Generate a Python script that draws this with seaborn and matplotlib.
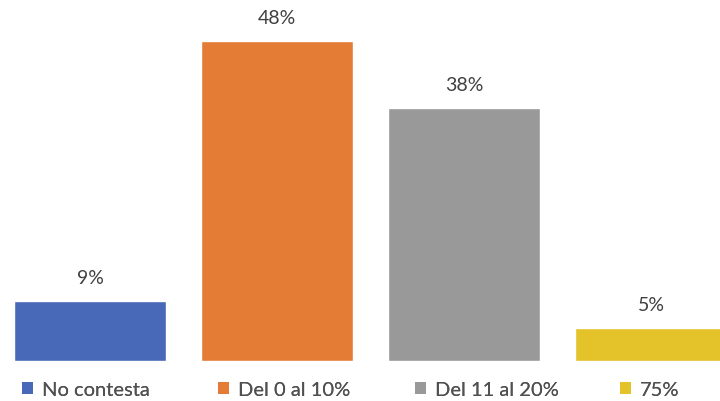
import matplotlib
matplotlib.use("Agg")
import matplotlib.pyplot as plt
from matplotlib.patches import Patch
import seaborn as sns
import pandas as pd

categories = ["No contesta", "Del 0 al 10%", "Del 11 al 20%", "75%"]
values = [9, 48, 38, 5]
colors = ["#4769B8", "#E47C36", "#999999", "#E4C22A"]

sns.set_theme(style="white")
plt.rcParams["font.family"] = ["Lato", "DejaVu Sans"]

df = pd.DataFrame({"cat": categories, "val": values})

fig = plt.figure(figsize=(7.2, 4.02), dpi=100)
ax = fig.add_axes([0, 40 / 402, 1, 362 / 402])

sns.barplot(data=df, x="cat", y="val", hue="cat", palette=colors,
            width=0.81, dodge=False, legend=False, ax=ax, saturation=1)

ax.set_xlim(-90 / 187, 630 / 187)
ax.set_ylim(0, 362 / (320 / 48))
ax.axis("off")

for i, v in enumerate(values):
    ax.annotate(f"{v}%", (i, v), xytext=(0, 17), textcoords="offset points",
                ha="center", va="center", fontsize=14, color="#404040")

# one legend entry per column, spaced along the bottom
legend_x = [22, 218, 415, 620]
for x, c, name in zip(legend_x, colors, categories):
    leg = fig.legend([Patch(facecolor=c, edgecolor="none")], [name],
                     loc="center left", bbox_to_anchor=(x / 720, 11 / 402),
                     frameon=False, fontsize=14.5, labelcolor="#505050",
                     handlelength=0.55, handleheight=0.55, handletextpad=0.45,
                     borderaxespad=0, borderpad=0)
    fig.add_artist(leg)

fig.savefig("out.png", dpi=100, facecolor="white")
